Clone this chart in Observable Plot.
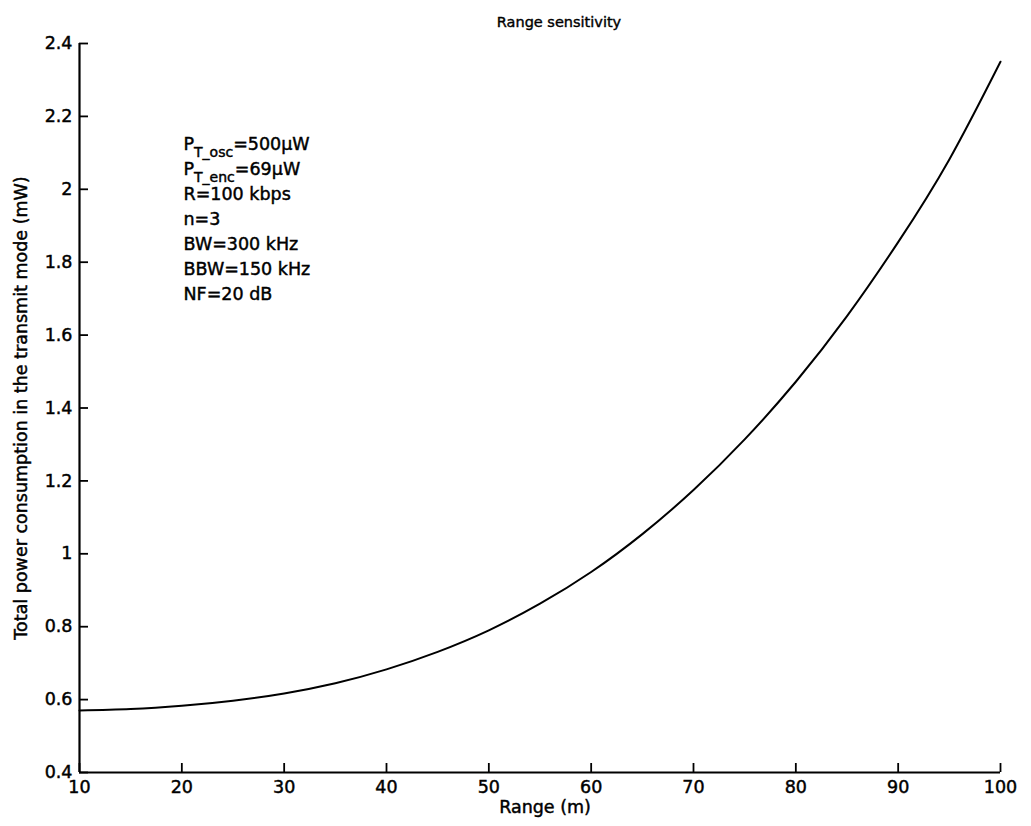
<!DOCTYPE html>
<html>
<head>
<meta charset="utf-8">
<script src="https://cdn.jsdelivr.net/npm/d3@7"></script>
<script src="https://cdn.jsdelivr.net/npm/@observablehq/plot@0.6"></script>
<style>
  body { margin: 0; background: #fff; font-family: "DejaVu Sans", "Liberation Sans", Arial, sans-serif; }
  #title { box-sizing: border-box; width: 1031px; height: 30px; padding-top: 14px; padding-left: 87px;
           line-height: 16px; text-align: center; font-size: 14.5px; color: #000; -webkit-text-stroke: 0.4px #000; }
  svg text { stroke: #000; stroke-width: 0.45px; }
</style>
</head>
<body>
<div id="title">Range sensitivity</div>
<div id="chart"></div>
<script>
// Data
const rangeM = [10, 15, 20, 25, 30, 35, 40, 45, 50, 55, 60, 65, 70, 75, 80, 85, 90, 95, 100];
const powerMW = [0.570, 0.574, 0.583, 0.597, 0.617, 0.645, 0.683, 0.731, 0.790, 0.863, 0.950, 1.054, 1.175, 1.314, 1.472, 1.652, 1.855, 2.082, 2.350];

const xTicks = [10, 20, 30, 40, 50, 60, 70, 80, 90, 100];
const xTickLabels = ["10", "20", "30", "40", "50", "60", "70", "80", "90", "100"];
const yTicks = [0.4, 0.6, 0.8, 1.0, 1.2, 1.4, 1.6, 1.8, 2.0, 2.2, 2.4];
const yTickLabels = ["0.4", "0.6", "0.8", "1", "1.2", "1.4", "1.6", "1.8", "2", "2.2", "2.4"];
const xDomain = [10, 100];
const yDomain = [0.4, 2.4];

const xLabel = "Range (m)";
const yLabel = "Total power consumption in the transmit mode (mW)";
const notes = ["P_T_osc=500µW", "P_T_enc=69µW", "R=100 kbps", "n=3", "BW=300 kHz", "BBW=150 kHz", "NF=20 dB"];

const data = rangeM.map((r, i) => ({range: r, power: powerMW[i]}));
const xFmt = d => xTickLabels[xTicks.indexOf(d)];
const yFmt = d => yTickLabels[yTicks.findIndex(t => Math.abs(t - d) < 1e-9)];
const FS = 17.5;
const TICK = 9;

const chart = Plot.plot({
  width: 1031,
  height: 796,
  marginTop: 13,
  marginLeft: 79,
  marginRight: 31,
  marginBottom: 54,
  style: {fontFamily: '"DejaVu Sans", "Liberation Sans", Arial, sans-serif', fontSize: FS + "px", color: "#000", background: "#fff"},
  x: {domain: xDomain},
  y: {domain: yDomain},
  marks: [
    Plot.axisX({ticks: xTicks, tickFormat: xFmt, tickSize: 0, tickPadding: 8, label: null, fontSize: FS}),
    Plot.axisY({ticks: yTicks, tickFormat: yFmt, tickSize: 0, tickPadding: 7, label: null, fontSize: FS}),
    // inward ticks: outward axis ticks shifted back inside the frame
    Plot.axisX({ticks: xTicks, anchor: "bottom", tickSize: TICK, dy: -TICK, fill: "none", stroke: "#000", strokeWidth: 1.8, label: null}),
    Plot.axisY({ticks: yTicks, anchor: "left", tickSize: TICK, dx: TICK, fill: "none", stroke: "#000", strokeWidth: 1.8, label: null}),
    Plot.ruleX([xDomain[0]], {strokeWidth: 2.2}),
    Plot.ruleY([yDomain[0]], {strokeWidth: 2.2}),
    Plot.line(data, {x: "range", y: "power", curve: "natural", strokeWidth: 2, stroke: "#000"}),
    Plot.text([xLabel], {frameAnchor: "bottom", dx: 5, dy: 40, fontSize: FS}),
    Plot.text([yLabel], {frameAnchor: "left", textAnchor: "middle", rotate: -90, dx: -58, fontSize: FS}),
    Plot.text([notes.join("\n")], {frameAnchor: "top-left", textAnchor: "start", lineAnchor: "top",
      dx: 104, dy: 89, lineHeight: 25 / FS, fontSize: FS})
  ]
});

// Subscripts for the P_T_xxx lines
chart.querySelectorAll("tspan, text").forEach(el => {
  if (el.children.length) return;
  const m = /^P_(T_\w+)(=.*)$/.exec(el.textContent);
  if (!m) return;
  el.textContent = "";
  const ns = "http://www.w3.org/2000/svg";
  const a = document.createElementNS(ns, "tspan"); a.textContent = "P";
  const b = document.createElementNS(ns, "tspan"); b.textContent = m[1];
  b.setAttribute("dy", "7"); b.setAttribute("font-size", "14");
  const c = document.createElementNS(ns, "tspan"); c.textContent = m[2];
  c.setAttribute("dy", "-7");
  el.append(a, b, c);
});

document.getElementById("chart").appendChild(chart);
</script>
</body>
</html>
